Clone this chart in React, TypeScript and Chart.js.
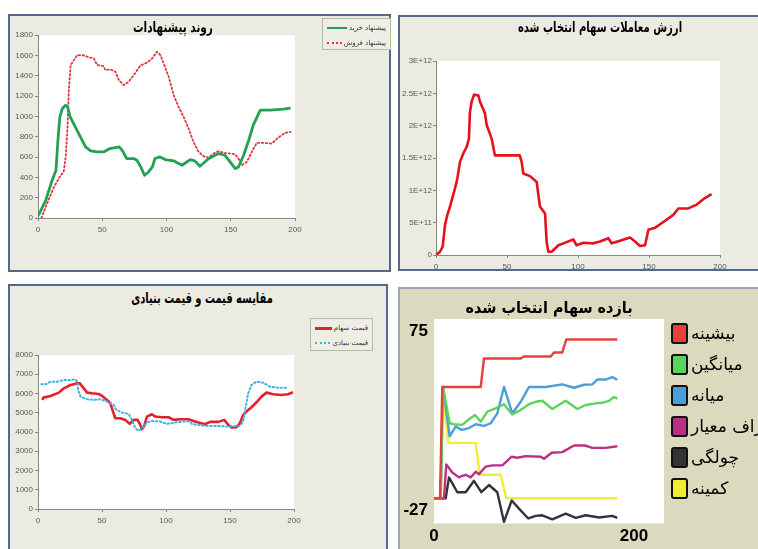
import React, { useEffect, useRef } from "react";
import { Chart, registerables } from "chart.js";

Chart.register(...registerables);

const TICK_FONT = "'Liberation Sans', Arial, sans-serif";
const FA_FONT = "'DejaVu Sans', 'Noto Sans', sans-serif";

// ---------------- Panel 1: روند پیشنهادات ----------------
const offerTitle = "روند پیشنهادات";
const offerXTicks = [0, 50, 100, 150, 200];
const offerYTicks = [0, 200, 400, 600, 800, 1000, 1200, 1400, 1600, 1800];
const buyOfferLabel = "پیشنهاد خرید";
const sellOfferLabel = "پیشنهاد فروش";
const buyOffer: [number, number][] = [
  [0, 26], [1, 43], [6, 174], [11, 371], [14, 470], [15.5, 765], [17, 995], [19, 1077], [21.5, 1110], [23, 1094],
  [25, 995], [29, 897], [33, 798], [37, 700], [41, 660], [46, 650], [51, 650], [56, 683], [63, 700], [65.5, 667],
  [69, 585], [74.5, 585], [77, 568], [80, 502], [83, 420], [86, 453], [89, 502], [91, 585], [95, 601], [99, 575],
  [105.5, 562], [112, 519], [118.5, 575], [122, 562], [126, 509], [133, 585], [140.5, 634], [145.5, 617], [149.5, 552], [153.5, 486],
  [156, 502], [160, 617], [164, 765], [167.5, 913], [173, 1061], [180.6, 1061], [191, 1070], [196.6, 1080],
];
const sellOffer: [number, number][] = [
  [2.6, 0], [7, 141], [12.4, 305], [17.6, 420], [20, 453], [21.5, 600], [23, 897], [24, 1258], [25.4, 1504], [28, 1553],
  [30.5, 1603], [34.4, 1603], [39.6, 1580], [43.5, 1570], [46, 1504], [51, 1494], [52.5, 1455], [56.4, 1461], [60.3, 1438], [63, 1356],
  [66.7, 1307], [70.6, 1340], [74.5, 1405], [80, 1504], [84.9, 1527], [88.8, 1570], [92.6, 1635], [95.2, 1603], [97.8, 1520], [101.7, 1389],
  [105.6, 1208], [109.4, 1094], [113.3, 995], [117.2, 880], [121, 749], [125, 650], [128.8, 608], [132.7, 594], [136.6, 634], [140.5, 657],
  [144.4, 640], [149.5, 634], [153.4, 627], [156, 585], [158.6, 519], [162.5, 552], [166.4, 650], [170.2, 739], [175.4, 739], [181.9, 732],
  [187, 791], [192.2, 837], [196.6, 847],
];

// ---------------- Panel 2: ارزش معاملات سهام انتخاب شده ----------------
const valueTitle = "ارزش معاملات سهام انتخاب شده";
const valueXTicks = [0, 50, 100, 150, 200];
const valueYTicks = [0, 5e11, 1e12, 1.5e12, 2e12, 2.5e12, 3e12];
// values in units of 1E+11
const tradeValue: [number, number][] = [
  [0, 0], [2.8, 0.5], [4.7, 1.3], [5.6, 3.1], [6.3, 4.6], [8, 6.2], [9.9, 7.5], [11.7, 9.0], [13.4, 10.3], [15, 11.8],
  [16.9, 14.4], [19.2, 15.7], [21.6, 16.7], [23.2, 18.0], [23.9, 22.1], [25.1, 23.7], [26.8, 24.8], [28.6, 24.7], [29.8, 24.7], [31, 23.7],
  [34.5, 21.9], [35.7, 20.1], [39.2, 18.0], [41.5, 15.4], [45, 15.4], [59, 15.4], [60.3, 14.4], [61.5, 12.6], [66.2, 12.2], [70.9, 11.3],
  [73.2, 7.5], [76.8, 6.4], [77.9, 2.1], [79.1, 0.5], [81.5, 0.5], [86.2, 1.5], [89.7, 1.8], [96.7, 2.4], [99, 1.5], [103.8, 1.9],
  [110.8, 1.8], [115.5, 2.1], [121.4, 2.6], [123.7, 1.8], [129.6, 2.2], [136.6, 2.7], [140.2, 2.1], [143.7, 1.4], [147.2, 1.5], [149.6, 3.9],
  [154.2, 4.2], [160.1, 5.1], [167.1, 6.2], [170.7, 7.2], [177.7, 7.2], [183.6, 7.8], [189.4, 8.8], [194.1, 9.4],
];

// ---------------- Panel 3: مقایسه قیمت و قیمت بنیادی ----------------
const priceTitle = "مقایسه قیمت و قیمت بنیادی";
const priceXTicks = [0, 50, 100, 150, 200];
const priceYTicks = [0, 1000, 2000, 3000, 4000, 5000, 6000, 7000, 8000];
const stockPriceLabel = "قیمت سهام";
const fundamentalLabel = "قیمت بنیادی";
const stockPrice: [number, number][] = [
  [3.4, 5665], [4.2, 5786], [9.9, 5872], [16.3, 6045], [20.2, 6269], [25.4, 6442], [30.6, 6528], [32.7, 6528], [35.8, 6269], [38.4, 6045],
  [42.2, 6010], [47.4, 5976], [50.1, 5872], [53.9, 5665], [56.5, 5492], [58.6, 5060], [60.4, 4715], [64.3, 4715], [68.2, 4629], [71.6, 4421],
  [74.7, 4629], [77.8, 4629], [79.9, 4370], [81.2, 4145], [83, 4318], [85.1, 4801], [89, 4922], [91.6, 4801], [96.8, 4767], [102, 4767],
  [105.9, 4629], [111, 4663], [117.5, 4663], [121.4, 4577], [125.3, 4491], [130.5, 4404], [134.4, 4525], [140.9, 4525], [145.5, 4629], [148.7, 4370],
  [151.2, 4231], [155.1, 4249], [157.7, 4456], [160.3, 4888], [162.9, 5060], [166.8, 5285], [170.7, 5544], [174.6, 5838], [178.5, 6045], [183.7, 5959],
  [190.1, 5924], [195.3, 5959], [199.2, 6062],
];
const fundamentalPrice: [number, number][] = [
  [2.6, 6477], [6, 6477], [9.9, 6615], [15, 6615], [20.2, 6701], [25.4, 6701], [29.3, 6736], [30.6, 6615], [31.4, 6183], [33.2, 5838],
  [38.4, 5700], [43.6, 5665], [48.8, 5700], [53.9, 5579], [59.1, 5406], [61.2, 5147], [65.6, 5009], [70.8, 4940], [73.4, 4629], [76.1, 4197],
  [78.6, 4059], [81.2, 4197], [85.1, 4491], [89, 4577], [95.5, 4542], [100.7, 4421], [107.2, 4491], [113.7, 4542], [118.3, 4542], [120.2, 4421],
  [124.1, 4370], [131.9, 4318], [139.7, 4318], [147.4, 4283], [157.7, 4318], [160.3, 4542], [161.6, 5060], [164.2, 6010], [166.8, 6442], [170.7, 6615],
  [175.9, 6563], [181.1, 6356], [187.5, 6304], [195.3, 6304],
];

// ---------------- Panel 4: بازده سهام انتخاب شده ----------------
const returnTitle = "بازده سهام انتخاب شده";
const returnXTicks = [0, 200];
const returnXMax = 230;
const returnYTicks = [-27, 75];
const returnLabels = ["بیشینه", "میانگین", "میانه", "انحراف معیار", "چولگی", "کمینه"];
const returnColors = ["#e5403e", "#5cd35a", "#4a9fd8", "#bd2f82", "#333333", "#eeee33"];
const returnMax: [number, number][] = [
  [0, -14.4], [6, -14.4], [8.3, 41.1], [46.7, 41.1], [50, 55.3], [86.7, 55.3], [90, 56.3], [116.7, 56.3], [120, 58.3], [128.3, 58.3], [132.3, 64.8], [183.3, 64.8],
];
const returnMean: [number, number][] = [
  [0, -14.4], [6.7, -14.4], [9, 41.1], [15.7, 23.0], [20, 22.5], [28.3, 22.2], [35, 25.0], [41, 27.1], [46.7, 23.8], [53.3, 28.8], [61.7, 30.4],
  [70, 32.5], [78.3, 27.4], [86.7, 29.6], [95, 32.5], [101.7, 33.7], [108.3, 34.2], [118.3, 30.1], [131.7, 34.2], [143.3, 30.1], [151.7, 32.1],
  [161.7, 32.9], [168.3, 33.2], [175, 34.2], [180, 36.1], [183.3, 35.3],
];
const returnMedian: [number, number][] = [
  [0, -14.4], [6.7, -14.4], [9, 41.1], [15.7, 16.5], [21.7, 21.4], [27.7, 19.7], [35, 20.6], [41.7, 22.5], [50, 21.7], [56.7, 23.0], [63.3, 27.9],
  [70, 41.1], [78.3, 27.9], [86.7, 33.7], [95, 41.1], [111.7, 41.1], [128.3, 42.4], [140, 40.7], [150, 42.2], [158.3, 42.4], [163.3, 44.8],
  [171.7, 44.8], [178.3, 46.0], [183.3, 44.7],
];
const returnStd: [number, number][] = [
  [0, -14.4], [10, -14.4], [12.3, 2.5], [18.3, -1.6], [25, -4.0], [28.3, -3.2], [31.7, -2.7], [36.7, -4.0], [41.7, -1.2], [45, -2.4],
  [51.7, 1.4], [58.3, 2.0], [68.3, 2.0], [77.7, 6.3], [83.3, 5.8], [91.7, 6.6], [106.7, 6.3], [110, 5.3], [117.7, 8.3], [128.3, 8.6],
  [140, 11.9], [151, 11.9], [158.3, 10.7], [171.7, 10.7], [183.3, 11.5],
];
const returnSkew: [number, number][] = [
  [0, -14.4], [11.7, -14.4], [15, -4.0], [23.3, -11.4], [31.7, -11.4], [40, -5.7], [47.3, -11.4], [55, -7.8], [63.3, -11.4], [70, -26.2],
  [77.7, -15.5], [85, -19.6], [94.3, -24.5], [101.7, -23.2], [108.3, -22.9], [118.3, -24.9], [131.7, -22.1], [141.7, -24.2], [151.7, -22.9],
  [165, -24.0], [178.3, -23.2], [183.3, -24.2],
];
const returnMin: [number, number][] = [
  [0, -14.4], [6.7, -14.4], [8.3, 41.1], [14.3, 13.2], [41.7, 13.2], [45.7, -2.7], [66.7, -2.7], [72.3, -14.4], [183.3, -14.4],
];
const returnSeries = [returnMax, returnMean, returnMedian, returnStd, returnSkew, returnMin];

// ---------------- helpers ----------------
const plotBg = {
  id: "plotBg",
  beforeDraw(chart: any) {
    const { ctx, chartArea: a } = chart;
    ctx.save();
    ctx.fillStyle = "#ffffff";
    ctx.fillRect(a.left, a.top, a.right - a.left, a.bottom - a.top);
    ctx.restore();
  },
};

const fixedTicks = (vals: number[]) => (scale: any) => {
  scale.ticks = vals.map((v) => ({ value: v }));
};

function excelAxis(vals: number[], isX: boolean, size: number, pad: number, fmt?: (v: number) => string) {
  return {
    type: "linear",
    min: vals[0],
    max: vals[vals.length - 1],
    afterBuildTicks: fixedTicks(vals),
    afterFit: (s: any) => {
      if (isX) s.height = size;
      else s.width = size;
    },
    ticks: {
      color: "#595959",
      font: { family: TICK_FONT, size: 8 },
      padding: pad,
      maxRotation: 0,
      autoSkip: false,
      callback: (v: any) => (fmt ? fmt(Number(v)) : String(v)),
    },
    grid: { display: true, drawOnChartArea: false, drawTicks: true, tickLength: 3, color: "#868686" },
    border: { display: true, color: "#868686", width: 1 },
  };
}

function lineSet(pts: [number, number][], color: string, width: number, dash?: number[], scaleY = 1) {
  return {
    data: pts.map(([x, y]) => ({ x, y: y * scaleY })),
    borderColor: color,
    backgroundColor: color,
    borderWidth: width,
    borderDash: dash || [],
    borderCapStyle: dash ? "round" : "butt",
    borderJoinStyle: "round",
    pointRadius: 0,
    tension: 0,
    fill: false,
  };
}

function baseOptions(pad: { top: number; right: number; bottom?: number }, scales: any) {
  return {
    responsive: false,
    animation: false,
    events: [],
    layout: { padding: { top: pad.top, right: pad.right, left: 0, bottom: pad.bottom || 0 } },
    plugins: { legend: { display: false }, title: { display: false }, tooltip: { enabled: false } },
    scales,
  };
}

function ChartCanvas({ left, top, width, height, make }: { left: number; top: number; width: number; height: number; make: () => any }) {
  const ref = useRef<HTMLCanvasElement>(null);
  useEffect(() => {
    const chart = new Chart(ref.current as HTMLCanvasElement, make());
    return () => chart.destroy();
  }, []);
  return (
    <canvas
      ref={ref}
      width={width}
      height={height}
      style={{ position: "absolute", left, top, width, height, display: "block" }}
    />
  );
}

function Title({ cx, cy, text, size, sx }: { cx: number; cy: number; text: string; size: number; sx: number }) {
  return (
    <div
      dir="rtl"
      style={{
        position: "absolute",
        left: cx - 150,
        width: 300,
        top: cy - size * 0.7,
        height: size * 1.4,
        lineHeight: `${size * 1.4}px`,
        textAlign: "center",
        fontFamily: FA_FONT,
        fontWeight: "bold",
        fontSize: size,
        color: "#000",
        whiteSpace: "nowrap",
        transform: `scaleX(${sx})`,
        transformOrigin: "50% 50%",
      }}
    >
      {text}
    </div>
  );
}

function SmallLegend({
  left, top, width, height, items,
}: {
  left: number; top: number; width: number; height: number;
  items: { label: string; color: string; dotted: boolean; thick: number }[];
}) {
  return (
    <div
      style={{
        position: "absolute", left, top, width, height, boxSizing: "border-box",
        border: "1px solid #a9c49c", background: "#efeee6",
      }}
    >
      {items.map((it, i) => (
        <div
          key={i}
          style={{
            position: "absolute", left: 4, right: 4, top: 3 + i * 15, height: 12,
            display: "flex", flexDirection: "row", alignItems: "center", justifyContent: "flex-end",
          }}
        >
          <div
            style={{
              width: 20, height: 0, marginRight: 2,
              borderTop: `${it.thick}px ${it.dotted ? "dotted" : "solid"} ${it.color}`,
            }}
          />
          <span dir="rtl" style={{ fontFamily: FA_FONT, fontSize: 7, color: "#333", whiteSpace: "nowrap" }}>
            {it.label}
          </span>
        </div>
      ))}
    </div>
  );
}

const eBorder = "2px solid #52698b";
const eBg = "#ecebe1";

export default function App() {
  return (
    <div style={{ position: "absolute", left: 0, top: 0, width: 758, height: 549, overflow: "hidden", background: "#fff" }}>
      {/* panel frames */}
      <div style={{ position: "absolute", left: 8, top: 14, width: 383, height: 258, border: eBorder, background: eBg, boxSizing: "border-box" }} />
      <div style={{ position: "absolute", left: 398, top: 15, width: 370, height: 256, border: eBorder, background: eBg, boxSizing: "border-box" }} />
      <div style={{ position: "absolute", left: 8, top: 284, width: 380, height: 290, border: eBorder, background: eBg, boxSizing: "border-box" }} />
      <div style={{ position: "absolute", left: 398, top: 287, width: 370, height: 290, border: "2px solid #9ca5b8", background: "#dbdabe", boxSizing: "border-box" }} />

      {/* Panel 1 */}
      <ChartCanvas
        left={6} top={27} width={301} height={209}
        make={() => ({
          type: "line",
          data: {
            datasets: [
              lineSet(buyOffer, "#23a152", 2.8),
              lineSet(sellOffer, "#e5323c", 1.8, [1.5, 2.5]),
            ],
          },
          options: baseOptions({ top: 8, right: 12 }, {
            x: excelAxis(offerXTicks, true, 18, 4),
            y: excelAxis(offerYTicks, false, 32, 2),
          }),
          plugins: [plotBg],
        })}
      />
      <Title cx={173} cy={27} text={offerTitle} size={15} sx={0.7} />
      <SmallLegend
        left={322} top={18} width={69} height={32}
        items={[
          { label: buyOfferLabel, color: "#23a152", dotted: false, thick: 2 },
          { label: sellOfferLabel, color: "#e5323c", dotted: true, thick: 2 },
        ]}
      />

      {/* Panel 2 */}
      <ChartCanvas
        left={396} top={53} width={336} height={220}
        make={() => ({
          type: "line",
          data: { datasets: [lineSet(tradeValue, "#e4121c", 2.6, undefined, 1e11)] },
          options: baseOptions({ top: 8, right: 12 }, {
            x: excelAxis(valueXTicks, true, 18, 4),
            y: excelAxis(valueYTicks, false, 40, 1, (v) => (v === 0 ? "0" : v.toExponential().toUpperCase())),
          }),
          plugins: [plotBg],
        })}
      />
      <Title cx={600} cy={27} text={valueTitle} size={15} sx={0.67} />

      {/* Panel 3 */}
      <ChartCanvas
        left={6} top={347} width={300} height={180}
        make={() => ({
          type: "line",
          data: {
            datasets: [
              lineSet(fundamentalPrice, "#3bb3e6", 2, [1.5, 2.5]),
              lineSet(stockPrice, "#e5202a", 2.6),
            ],
          },
          options: baseOptions({ top: 8, right: 12 }, {
            x: excelAxis(priceXTicks, true, 18, 4),
            y: excelAxis(priceYTicks, false, 32, 2),
          }),
          plugins: [plotBg],
        })}
      />
      <Title cx={202} cy={298} text={priceTitle} size={15} sx={0.66} />
      <SmallLegend
        left={310} top={318} width={63} height={33}
        items={[
          { label: stockPriceLabel, color: "#e5202a", dotted: false, thick: 3 },
          { label: fundamentalLabel, color: "#3bb3e6", dotted: true, thick: 2 },
        ]}
      />

      {/* Panel 4 */}
      <ChartCanvas
        left={398} top={287} width={268} height={268}
        make={() => ({
          type: "line",
          data: {
            datasets: returnSeries.map((s, i) => lineSet(s, returnColors[i], 2.4)),
          },
          options: baseOptions({ top: 32, right: 2, bottom: 6 }, {
            x: {
              type: "linear",
              min: returnXTicks[0],
              max: returnXMax,
              afterBuildTicks: fixedTicks(returnXTicks),
              afterFit: (s: any) => { s.height = 22; },
              ticks: { color: "#000", font: { family: TICK_FONT, size: 17, weight: "bold" }, padding: 3, maxRotation: 0, autoSkip: false },
              grid: { display: false, drawTicks: false },
              border: { display: false },
            },
            y: {
              type: "linear",
              min: returnYTicks[0],
              max: returnYTicks[1],
              afterBuildTicks: fixedTicks(returnYTicks),
              afterFit: (s: any) => { s.width = 36; },
              ticks: {
                color: "#000",
                font: { family: TICK_FONT, size: 17, weight: "bold", lineHeight: 1.5 },
                padding: 6,
                autoSkip: false,
                callback: (v: any) => (Number(v) === returnYTicks[1] ? ["", String(v)] : [String(v), ""]),
              },
              grid: { display: false, drawTicks: false },
              border: { display: false },
            },
          }),
          plugins: [plotBg],
        })}
      />
      <Title cx={549} cy={308} text={returnTitle} size={16} sx={0.9} />
      {returnLabels.map((lab, i) => {
        const cy = 333 + i * 31;
        return (
          <React.Fragment key={i}>
            <div
              style={{
                position: "absolute", left: 671, top: cy - 10, width: 17, height: 21, boxSizing: "border-box",
                border: "2px solid #111", borderRadius: 3, background: returnColors[i],
              }}
            />
            <div
              dir="rtl"
              style={{
                position: "absolute", left: 691, top: cy - 12, height: 24, lineHeight: "24px",
                fontFamily: FA_FONT, fontSize: 17, color: "#000", whiteSpace: "nowrap",
              }}
            >
              {lab}
            </div>
          </React.Fragment>
        );
      })}
    </div>
  );
}
